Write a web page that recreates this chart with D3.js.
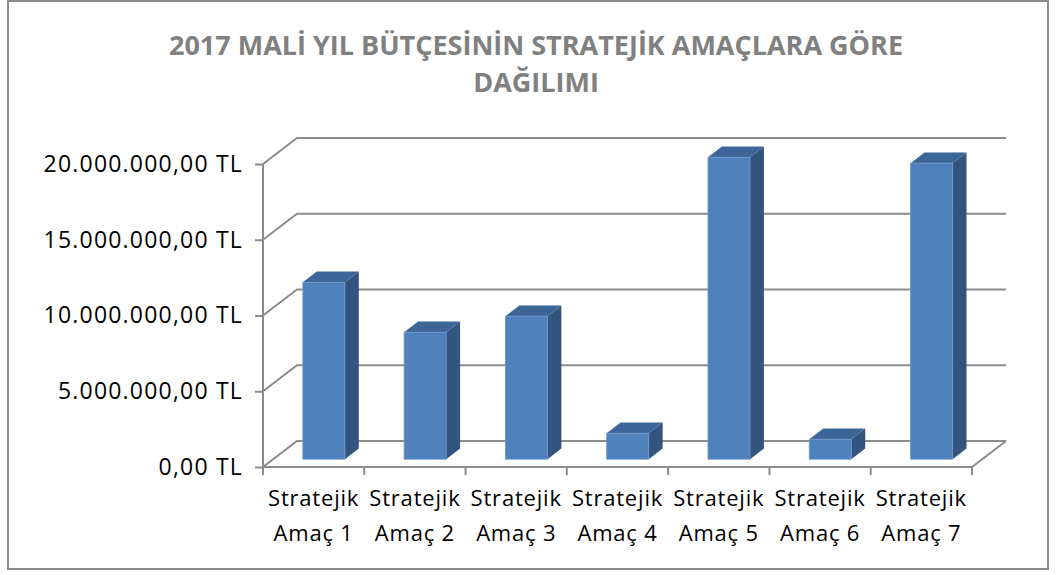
<!DOCTYPE html>
<html lang="tr">
<head>
<meta charset="utf-8">
<title>2017 Mali Yıl Bütçesi</title>
<script src="https://d3js.org/d3.v7.min.js"></script>
<style>
  body { margin: 0; background: #fff; }
  svg { display: block; font-family: "Open Sans", "Noto Sans", sans-serif; }
</style>
</head>
<body>
<svg id="chart" width="1057" height="575"></svg>
<script>
// data
const categories = ["Stratejik Amaç 1", "Stratejik Amaç 2", "Stratejik Amaç 3", "Stratejik Amaç 4",
                    "Stratejik Amaç 5", "Stratejik Amaç 6", "Stratejik Amaç 7"];
const values = [11680000, 8380000, 9440000, 1720000, 19930000, 1320000, 19540000];
const yTicks = [0, 5000000, 10000000, 15000000, 20000000];
const titleLines = ["2017 MALİ YIL BÜTÇESİNİN STRATEJİK AMAÇLARA GÖRE", "DAĞILIMI"];

const svg = d3.select("#chart");

// frame
svg.append("rect").attr("x", 8).attr("y", 1).attr("width", 1040).attr("height", 568)
  .attr("fill", "#fff").attr("stroke", "#8a8a8a").attr("stroke-width", 2);

// title
svg.append("g").selectAll("text").data(titleLines).enter().append("text")
  .attr("x", 536).attr("y", (d, i) => 55 + i * 37)
  .attr("text-anchor", "middle")
  .attr("font-size", 27).attr("font-weight", "bold").attr("fill", "#808080")
  .text(d => d);

// 3d geometry
const depthX = 34, depthY = -26;   // floor depth (front -> back wall)
const barFront = 0.3, barBack = 0.71;  // bar position inside the depth

const x = d3.scaleBand().domain(categories).range([263, 972])
  .paddingInner(0.585).paddingOuter(0.2925);
const xCat = d3.scaleBand().domain(categories).range([263, 972]);
const y = d3.scaleLinear().domain([0, 20000000]).range([467, 164]);

const trLocale = d3.formatLocale({ decimal: ",", thousands: ".", grouping: [3], currency: ["", ""] });
const fmt = v => trLocale.format(",.2f")(v) + " TL";

const gridColor = "#8c8c8c";
const grid = svg.append("g").attr("stroke", gridColor).attr("stroke-width", 2).attr("fill", "none");

// back wall gridlines + left wall diagonals
yTicks.forEach(t => {
  const yf = y(t);
  grid.append("path").attr("d",
    `M${x.range()[0]},${yf} L${x.range()[0] + depthX},${yf + depthY} L${x.range()[1] + depthX},${yf + depthY}`);
});

// floor: right edge and front edge
grid.append("path").attr("d",
  `M${x.range()[0]},${y(0)} L${x.range()[1]},${y(0)} L${x.range()[1] + depthX},${y(0) + depthY}`);

// y axis (front left edge)
const yAxis = d3.axisLeft(y).tickValues(yTicks).tickSize(8).tickFormat(fmt).tickPadding(12);
const gy = svg.append("g").attr("transform", `translate(${x.range()[0]},0)`).call(yAxis);
gy.select(".domain").attr("stroke", gridColor).attr("stroke-width", 2).attr("d",
  `M0,${y(0)}V${y(20000000)}`);
gy.selectAll(".tick line").attr("stroke", gridColor).attr("stroke-width", 2);
gy.selectAll(".tick text").attr("font-size", 23).attr("fill", "#000")
  .attr("letter-spacing", 1.2)
  .attr("font-family", "'Open Sans', 'Noto Sans', sans-serif");

// x axis (front floor edge)
const xAxis = d3.axisBottom(xCat).tickSize(0).tickFormat("");
const gx = svg.append("g").attr("transform", `translate(0,${y(0)})`).call(xAxis);
gx.select(".domain").remove();
const catTicks = d3.range(categories.length + 1).map(i => xCat.range()[0] + i * xCat.step());
gx.selectAll(".sep").data(catTicks).enter().append("line")
  .attr("x1", d => d).attr("x2", d => d).attr("y1", 0).attr("y2", 8)
  .attr("stroke", gridColor).attr("stroke-width", 2);

// category labels, two lines
const lbl = svg.append("g").selectAll("text").data(categories).enter().append("text")
  .attr("text-anchor", "middle").attr("font-size", 22).attr("fill", "#000")
  .attr("letter-spacing", 0.8)
  .attr("x", d => xCat(d) + xCat.bandwidth() / 2);
lbl.append("tspan").attr("x", d => xCat(d) + xCat.bandwidth() / 2).attr("y", 506)
  .text(d => d.split(" ")[0]);
lbl.append("tspan").attr("x", d => xCat(d) + xCat.bandwidth() / 2).attr("y", 541)
  .text(d => d.split(" ").slice(1).join(" "));

// bars
const fx = barFront * depthX, fy = barFront * depthY;
const bdx = (barBack - barFront) * depthX, bdy = (barBack - barFront) * depthY;
const bars = svg.append("g").selectAll("g").data(categories.map((c, i) => ({ c, v: values[i] })))
  .enter().append("g");

bars.append("path") // side
  .attr("fill", "#33547f")
  .attr("d", d => {
    const x1 = x(d.c) + fx + x.bandwidth(), y0 = y(0) + fy, y1 = y(d.v) + fy;
    return `M${x1},${y0} L${x1 + bdx},${y0 + bdy} L${x1 + bdx},${y1 + bdy} L${x1},${y1}Z`;
  });
bars.append("path") // top
  .attr("fill", "#3d6698")
  .attr("d", d => {
    const x0 = x(d.c) + fx, x1 = x0 + x.bandwidth(), y1 = y(d.v) + fy;
    return `M${x0},${y1} L${x1},${y1} L${x1 + bdx},${y1 + bdy} L${x0 + bdx},${y1 + bdy}Z`;
  });
bars.append("rect") // front
  .attr("fill", "#4f81bd").attr("stroke", "#6f98cb").attr("stroke-width", 0.8)
  .attr("x", d => x(d.c) + fx)
  .attr("y", d => y(d.v) + fy)
  .attr("width", x.bandwidth())
  .attr("height", d => y(0) - y(d.v));
</script>
</body>
</html>
